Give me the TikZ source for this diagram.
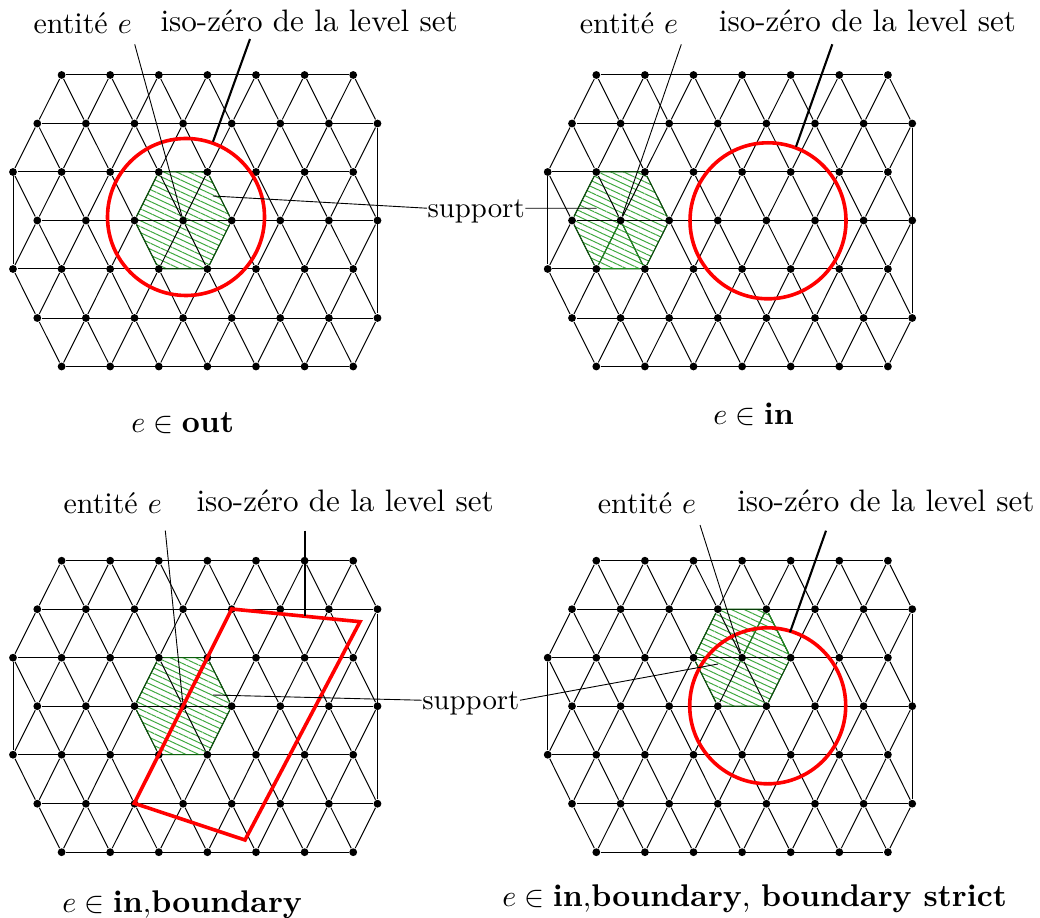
\documentclass[tikz,border=0pt]{standalone}
\usepackage{tikz}
\usetikzlibrary{backgrounds,patterns.meta}
\definecolor{IsoRed}{HTML}{FF0000}
\definecolor{HatchGreen}{HTML}{3FA83F}
\definecolor{HexDark}{HTML}{0B5A0B}
\definecolor{HexGreen}{HTML}{1E8C1E}
\newcommand{\meshpanel}[3]{%
  \begin{scope}[shift={(#2,#3)}]
    \foreach \r/\y/\a in {0/75/1,2/172/0,4/269/0,6/366.5/1}
      \foreach \i in {\a,...,7}
        \node[meshdot] (#1-\r-\i) at ({13+48.6*\i},\y) {};
    \foreach \r/\y in {1/123.5,3/220.5,5/318}
      \foreach \i in {0,...,7}
        \node[meshdot] (#1-\r-\i) at ({37.3+48.6*\i},\y) {};
    % rows and the two vertical sides
    \foreach \r/\a in {0/1,1/0,2/0,3/0,4/0,5/0,6/1}
      \draw[meshline] (#1-\r-\a) -- (#1-\r-7);
    \draw[meshline] (#1-2-0) -- (#1-4-0);
    \draw[meshline] (#1-1-7) -- (#1-5-7);
    % slanted edges
    \foreach \r/\s/\a in {1/0/1,1/2/0,3/2/0,3/4/0,5/4/0,5/6/1} {
      \foreach \i in {\a,...,7}
        \draw[meshline] (#1-\r-\i) -- (#1-\s-\i);
      \foreach \i [evaluate=\i as \k using int(\i+1)] in {0,...,6}
        \draw[meshline] (#1-\r-\i) -- (#1-\s-\k);
    }
  \end{scope}
}
\newcommand{\supporthex}[7]{%
  \begin{scope}[on background layer]
    \fill[hatched] (#1-#2.center) -- (#1-#3.center) -- (#1-#4.center)
      -- (#1-#5.center) -- (#1-#6.center) -- (#1-#7.center) -- cycle;
  \end{scope}
  \draw[hexline] (#1-#2) -- (#1-#3) -- (#1-#4) -- (#1-#5) -- (#1-#6) -- (#1-#7) -- (#1-#2);
}
\begin{document}
\begin{tikzpicture}[
  x=0.3333pt,y=-0.3333pt,
  meshdot/.style={circle,fill=black,inner sep=0pt,minimum size=2.6pt},
  meshline/.style={draw=black,line width=0.33pt},
  hatched/.style={pattern={Lines[angle=-25,distance=1.8pt,line width=0.33pt]},pattern color=HatchGreen},
  hexline/.style={draw=HexDark,line width=0.33pt},
  spoke/.style={draw=HexGreen,line width=0.33pt},
  levelset/.style={draw=IsoRed,line width=1.2pt},
  isolead/.style={draw=black,line width=0.7pt},
  thinlead/.style={draw=black,line width=0.3pt},
  lbl/.style={anchor=base west,inner sep=0pt},
  isolbl/.style={lbl,font=\fontsize{10.35}{12}\selectfont},
  supportlbl/.style={lbl,font=\fontsize{9.6}{12}\selectfont},
  caselbl/.style={lbl,font=\fontsize{10.45}{12}\selectfont}
]
  \useasboundingbox (0,0) rectangle (1040,918);

  \meshpanel{a}{0}{0}
  \meshpanel{b}{534.7}{0}
  \meshpanel{c}{0}{485.7}
  \meshpanel{d}{534.7}{485.7}

  \supporthex{a}{3-2}{2-3}{2-4}{3-4}{4-4}{4-3}
  \supporthex{b}{3-0}{2-1}{2-2}{3-2}{4-2}{4-1}
  \supporthex{c}{3-2}{2-3}{2-4}{3-4}{4-4}{4-3}
  \supporthex{d}{2-3}{1-3}{1-4}{2-5}{3-4}{3-3}
  \draw[spoke] (b-3-1) -- (b-4-1);
  \draw[spoke] (b-3-1) -- (b-4-2);
  \draw[spoke] (b-4-1) -- (b-4-2);
  \draw[spoke] (d-2-4) -- (d-1-4);
  \draw[spoke] (d-1-4) -- (d-2-5);

  % level sets
  \coordinate (disc1) at (186,217);
  \coordinate (disc2) at (768,220.8);
  \coordinate (disc4) at (767.7,705.8);
  \draw[levelset] (disc1) circle [radius=78.5];
  \draw[levelset] (disc2) circle [radius=78];
  \draw[levelset] (disc4) circle [radius=78];
  \coordinate (quad1) at (231.7,609);
  \coordinate (quad2) at (360,621.7);
  \coordinate (quad3) at (245,840);
  \coordinate (quad4) at (134.3,803.3);
  \draw[levelset,line join=miter] (quad1) -- (quad2) -- (quad3) -- (quad4) -- cycle;

  % labels
  \node[lbl] (entite1) at (33,33.3) {entité $e$};
  \node[isolbl] (iso1) at (160,32) {iso-zéro de la level set};
  \node[lbl] (entite2) at (579.3,33.3) {entité $e$};
  \node[isolbl] (iso2) at (718.3,32) {iso-zéro de la level set};
  \node[lbl] (entite3) at (63,513) {entité $e$};
  \node[isolbl] (iso3) at (196,511.7) {iso-zéro de la level set};
  \node[lbl] (entite4) at (597.3,513) {entité $e$};
  \node[isolbl] (iso4) at (736.7,511.7) {iso-zéro de la level set};
  \node[supportlbl] (support1) at (427,217.3) {support};
  \node[supportlbl] (support2) at (421.7,709.3) {support};
  \node[caselbl] (case1) at (130.7,432.7) {$e\in\textbf{out}$};
  \node[caselbl] (case2) at (712.7,425) {$e\in\textbf{in}$};
  \node[caselbl] (case3) at (61.7,912) {$e\in\textbf{in}{,}\textbf{boundary}$};
  \node[caselbl] (case4) at (501.7,906) {$e\in\textbf{in}{,}\textbf{boundary}$, \textbf{boundary strict}};

  % free ends of the leaders
  \coordinate (ent1) at (134.7,44.3);
  \coordinate (ent2) at (681.3,44.3);
  \coordinate (ent3) at (165.3,530.7);
  \coordinate (ent4) at (700,525);
  \coordinate (isoA1) at (250,39);
  \coordinate (isoB1) at (213,141.7);
  \coordinate (isoA2) at (832.3,44.3);
  \coordinate (isoB2) at (796,146.7);
  \coordinate (isoA3) at (304.7,530.7);
  \coordinate (isoB3) at (304.7,615.7);
  \coordinate (isoA4) at (826,530.7);
  \coordinate (isoB4) at (790,632.3);
  \coordinate (hexA) at (213,196);
  \coordinate (hexB) at (596.7,208.3);
  \coordinate (hexC) at (213,695);
  \coordinate (hexD) at (718,664);

  \draw[thinlead] (ent1) -- (a-3-3);
  \draw[thinlead] (ent2) -- (b-3-1);
  \draw[thinlead] (ent3) -- (c-3-3);
  \draw[thinlead] (ent4) -- (d-2-4);
  \draw[isolead] (isoA1) -- (isoB1);
  \draw[isolead] (isoA2) -- (isoB2);
  \draw[isolead] (isoA3) -- (isoB3);
  \draw[isolead] (isoA4) -- (isoB4);
  \draw[thinlead] ([yshift=1pt]support1.west) -- (hexA);
  \draw[thinlead] ([yshift=1pt]support1.east) -- (hexB);
  \draw[thinlead] ([yshift=1pt]support2.west) -- (hexC);
  \draw[thinlead] ([yshift=1pt]support2.east) -- (hexD);
\end{tikzpicture}
\end{document}
